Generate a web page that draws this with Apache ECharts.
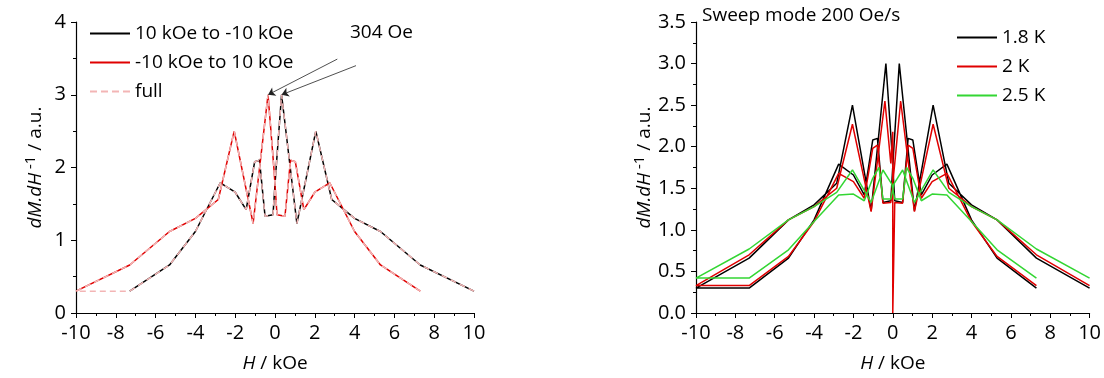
<!DOCTYPE html>
<html><head><meta charset="utf-8">
<script src="https://cdn.jsdelivr.net/npm/echarts@6/dist/echarts.min.js"></script>
<style>html,body{margin:0;padding:0;background:#fff}#c{width:1104px;height:378px}</style>
</head><body><div id="c"></div>
<script>
// ---- data (H in kOe, dM/dH in a.u.) ----
// 1.8 K, sweep 10 kOe -> -10 kOe
const down18H = [10, 7.3, 5.3, 4.0, 2.85, 2.05, 1.1, 0.33, 0.05, -0.1, -0.5, -0.78, -1.02, -1.45, -2.0, -2.75, -4.0, -5.3, -7.3];
const down18V = [0.30, 0.66, 1.12, 1.30, 1.56, 2.50, 1.23, 3.00, 1.97, 1.35, 1.33, 2.10, 2.08, 1.42, 1.66, 1.79, 1.12, 0.66, 0.30];
// 1.8 K, sweep -10 kOe -> 10 kOe
const up18H = [-10, -7.3, -5.3, -4.0, -2.85, -2.05, -1.1, -0.35, -0.05, 0.1, 0.5, 0.78, 1.02, 1.45, 2.0, 2.75, 4.0, 5.3, 7.3];
const up18V = [0.30, 0.66, 1.12, 1.30, 1.56, 2.50, 1.23, 3.00, 1.97, 1.35, 1.33, 2.10, 2.08, 1.42, 1.66, 1.79, 1.12, 0.66, 0.30];
// 2 K
const down2H = [10, 7.3, 5.3, 4.0, 2.85, 2.05, 1.1, 0.4, 0.1, -0.1, -0.5, -0.78, -1.02, -1.45, -2.0, -2.75, -4.0, -5.3, -7.3];
const down2V = [0.33, 0.70, 1.12, 1.28, 1.50, 2.27, 1.22, 2.55, 1.80, 1.33, 1.32, 2.02, 1.98, 1.38, 1.58, 1.68, 1.10, 0.68, 0.33];
const up2H = [-10, -7.3, -5.3, -4.0, -2.85, -2.05, -1.1, -0.4, -0.1, 0, 0, 0.1, 0.5, 0.78, 1.02, 1.45, 2.0, 2.75, 4.0, 5.3, 7.3];
const up2V = [0.33, 0.70, 1.12, 1.28, 1.50, 2.27, 1.22, 2.55, 1.80, 2.18, 0, 1.33, 1.32, 2.02, 1.98, 1.38, 1.58, 1.68, 1.10, 0.68, 0.33];
// 2.5 K
const down25H = [10, 7.3, 5.3, 4.0, 2.85, 2.05, 1.1, 0.5, 0.05, -0.1, -0.5, -0.7, -1.02, -1.45, -2.0, -2.75, -4.0, -5.3, -7.3];
const down25V = [0.42, 0.77, 1.12, 1.28, 1.45, 1.72, 1.33, 1.72, 1.55, 1.37, 1.37, 1.75, 1.62, 1.35, 1.43, 1.42, 1.10, 0.76, 0.42];
const up25H = [-10, -7.3, -5.3, -4.0, -2.85, -2.05, -1.1, -0.5, -0.05, 0.1, 0.5, 0.7, 1.02, 1.45, 2.0, 2.75, 4.0, 5.3, 7.3];
const up25V = [0.42, 0.77, 1.12, 1.28, 1.45, 1.72, 1.33, 1.72, 1.55, 1.37, 1.37, 1.75, 1.62, 1.35, 1.43, 1.42, 1.10, 0.76, 0.42];

const leftNames = ['10 kOe to -10 kOe', '-10 kOe to 10 kOe', 'full'];
const rightNames = ['1.8 K', '2 K', '2.5 K'];
const peakNote = '304 Oe';
const rightNote = 'Sweep mode 200 Oe/s';
// arrow tails for the annotation (data coords)
const arrowTails = [[3.13, 3.49], [4.07, 3.40]];

// ---- helpers ----
const pts = (h, v) => h.map((x, i) => [x, v[i]]);
const peakOf = (h, v) => { const i = v.indexOf(Math.max(...v)); return [h[i], v[i]]; };

const FONT = 'Open Sans';
const FS = 19;
const TFS = 20;
const axisCommon = {
  axisLine: { show: true, onZero: false, lineStyle: { color: '#000', width: 1.2 } },
  axisTick: { show: true, inside: false, length: 5, lineStyle: { color: '#000' } },
  minorTick: { show: true, splitNumber: 2, length: 3, lineStyle: { color: '#000' } },
  splitLine: { show: false },
  axisLabel: { color: '#000', fontSize: TFS, fontFamily: FONT, margin: 10 },
  nameTextStyle: { color: '#000', fontSize: FS, fontFamily: FONT,
    rich: { i: { fontStyle: 'italic', fontSize: FS, fontFamily: FONT },
            s: { fontSize: 15, fontFamily: FONT, padding: [0, 0, 10, 0] } } }
};
const xAx = (gi) => Object.assign({}, axisCommon, {
  type: 'value', gridIndex: gi, min: -10, max: 10, interval: 2,
  axisLabel: Object.assign({}, axisCommon.axisLabel, { margin: 10 }),
  name: '{i|H} / kOe', nameLocation: 'middle', nameGap: 41
});
const yAx = (gi, max, interval, fmt) => Object.assign({}, axisCommon, {
  type: 'value', gridIndex: gi, min: 0, max: max, interval: interval,
  axisLabel: Object.assign({}, axisCommon.axisLabel, { formatter: fmt }),
  name: '{i|dM.dH}{s| -1} / a.u.', nameLocation: 'middle', nameRotate: 90, nameGap: 28
});

const lw = 1.5;
const redPeak = peakOf(up18H, up18V);
const blackPeak = peakOf(down18H, down18V);
const dashIcon = 'path://M0,0h7v1h-7z M11,0h7v1h-7z M22,0h7v1h-7z M33,0h7v1h-7z';
const legendCommon = { orient: 'vertical', itemWidth: 40, itemHeight: 2, itemGap: 10, symbolKeepAspect: false,
  textStyle: { color: '#000', fontSize: FS, fontFamily: FONT } };

const option = {
  backgroundColor: '#fff',
  animation: false,
  grid: [
    { left: 76, top: 22, width: 398, height: 296 },
    { left: 696, top: 22, width: 394, height: 294 }
  ],
  xAxis: [xAx(0), xAx(1)],
  yAxis: [
    yAx(0, 4, 1, v => String(v)),
    yAx(1, 3.5, 0.5, v => v.toFixed(1))
  ],
  legend: [
    Object.assign({}, legendCommon, { left: 85, top: 19,
      data: [{ name: leftNames[0], icon: 'rect' }, { name: leftNames[1], icon: 'rect' }, { name: leftNames[2], icon: dashIcon }] }),
    Object.assign({}, legendCommon, { left: 952, top: 23,
      data: rightNames.map(n => ({ name: n, icon: 'rect' })) })
  ],
  graphic: [
    { type: 'text', left: 350, top: 23, style: { text: peakNote, fill: '#000', font: FS + 'px "' + FONT + '"' } },
    { type: 'text', left: 702, top: 6, style: { text: rightNote, fill: '#000', font: FS + 'px "' + FONT + '"' } }
  ],
  series: [
    { name: leftNames[0], type: 'line', xAxisIndex: 0, yAxisIndex: 0, symbol: 'none',
      data: pts(down18H, down18V), lineStyle: { color: '#000', width: lw }, itemStyle: { color: '#000' },
      markLine: { silent: true, symbol: ['none', 'arrow'], symbolSize: 7, label: { show: false },
        lineStyle: { color: '#222', width: 0.8, type: 'solid' },
        data: [[{ coord: arrowTails[1] }, { coord: blackPeak }]] } },
    { name: leftNames[1], type: 'line', xAxisIndex: 0, yAxisIndex: 0, symbol: 'none',
      data: pts(up18H, up18V), lineStyle: { color: '#e00000', width: lw }, itemStyle: { color: '#e00000' },
      markLine: { silent: true, symbol: ['none', 'arrow'], symbolSize: 7, label: { show: false },
        lineStyle: { color: '#222', width: 0.8, type: 'solid' },
        data: [[{ coord: arrowTails[0] }, { coord: redPeak }]] } },
    { name: leftNames[2], type: 'line', xAxisIndex: 0, yAxisIndex: 0, symbol: 'none', z: 5,
      data: pts(down18H, down18V).concat(pts(up18H, up18V)),
      lineStyle: { color: '#f3b5b5', width: lw, type: [6, 4] }, itemStyle: { color: '#f3b5b5' } },

    { name: rightNames[0], type: 'line', xAxisIndex: 1, yAxisIndex: 1, symbol: 'none',
      data: pts(down18H, down18V).concat(pts(up18H, up18V)),
      lineStyle: { color: '#000', width: lw }, itemStyle: { color: '#000' } },
    { name: rightNames[1], type: 'line', xAxisIndex: 1, yAxisIndex: 1, symbol: 'none',
      data: pts(down2H, down2V).concat(pts(up2H, up2V)),
      lineStyle: { color: '#e00000', width: lw }, itemStyle: { color: '#e00000' } },
    { name: rightNames[2], type: 'line', xAxisIndex: 1, yAxisIndex: 1, symbol: 'none',
      data: pts(down25H, down25V).concat(pts(up25H, up25V)),
      lineStyle: { color: '#33d633', width: lw }, itemStyle: { color: '#33d633' } }
  ]
};
const chart = echarts.init(document.getElementById('c'), null, { renderer: 'canvas' });
chart.setOption(option);
</script></body></html>
